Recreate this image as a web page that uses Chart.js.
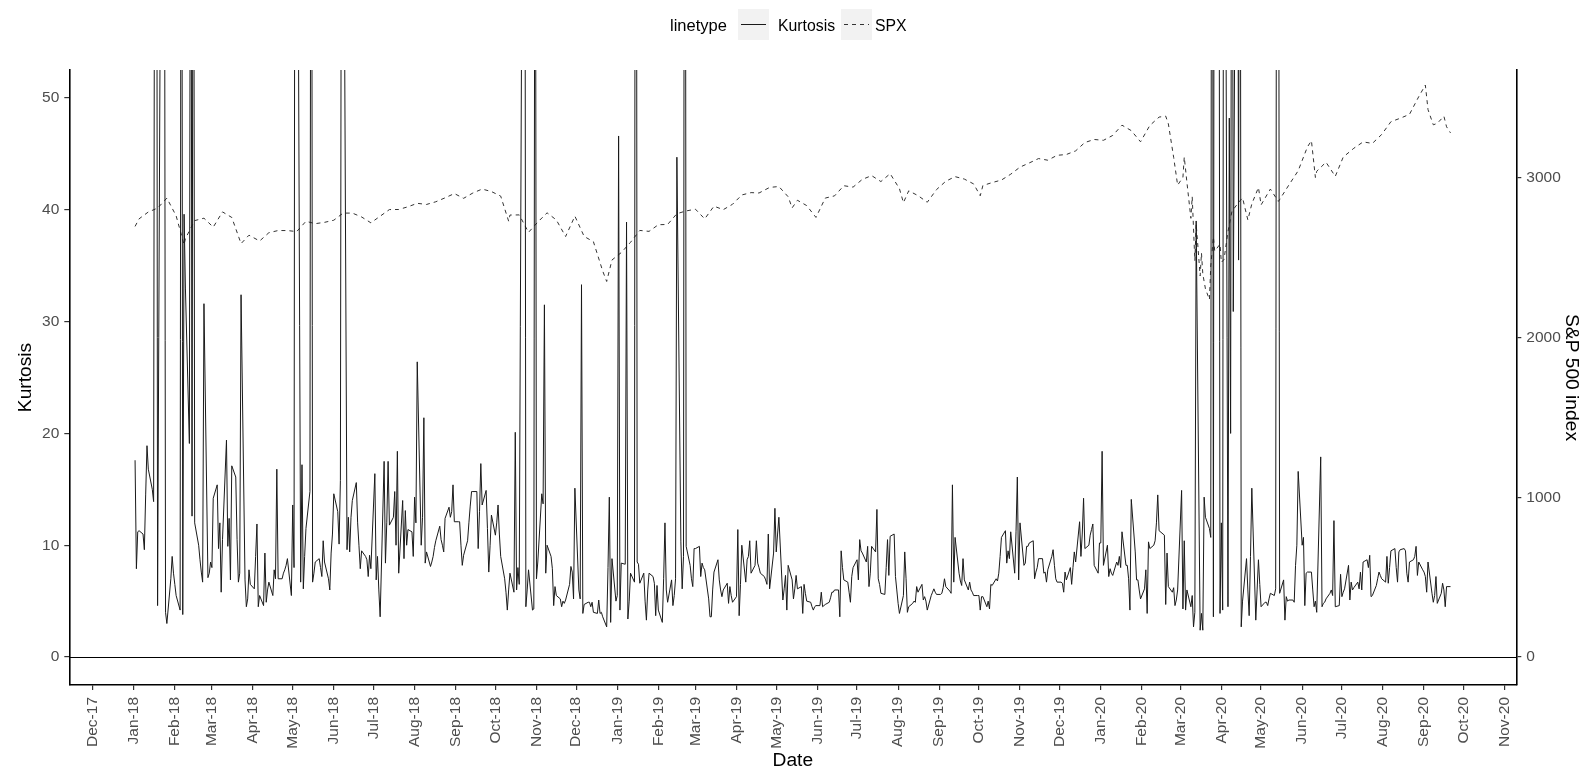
<!DOCTYPE html>
<html>
<head>
<meta charset="utf-8">
<title>Kurtosis and S&amp;P 500</title>
<script src="https://cdn.jsdelivr.net/npm/chart.js@4.4.1/dist/chart.umd.min.js"></script>
<style>
  html, body { margin: 0; padding: 0; background: #fff; }
  #wrap { position: relative; width: 1583px; height: 769px; }
  #legend { position: absolute; left: 0; top: 0; width: 1583px; height: 50px;
            font-family: "Liberation Sans", Arial, sans-serif; color: #000; }
  #legend .ttl, #legend .lab { position: absolute; top: 10px; height: 31px; line-height: 31px; white-space: nowrap; }
  #legend .ttl { left: 670px; font-size: 16.5px; }
  #legend .lab { font-size: 15.8px; }
  #legend .key { position: absolute; top: 9px; width: 31px; height: 31px; background: #f2f2f2; }
  #legend .key i { position: absolute; left: 3px; right: 3px; top: 15px; height: 1px; }
  #legend .solid { background: #1a1a1a; }
  #legend .dash { background: repeating-linear-gradient(90deg, #333 0 4px, transparent 4px 8px); }
</style>
</head>
<body>
<div id="wrap">
  <canvas id="chart" width="1583" height="769"></canvas>
  <div id="legend">
    <span class="ttl">linetype</span>
    <span class="key" style="left:738px"><i class="solid"></i></span>
    <span class="lab" style="left:778px">Kurtosis</span>
    <span class="key" style="left:841px"><i class="dash"></i></span>
    <span class="lab" style="left:875px">SPX</span>
  </div>
</div>
<script>
// daily kurtosis, one value per weekday starting 2 Jan 2018
const kurt2018 = [
  17.6, 7.9, 11.2, 11.3, 11.0, 9.6, 14.5, 18.9, 16.8, 15.0, 13.9, 95, 120, 4.6, 85, 110, 90, 4.0, 3.0, 7.0, 9.0, 7.5,
  6.5, 5.5, 4.2, 110, 3.8, 39.6, 33, 19.1, 95, 12.6, 100, 12.0, 10.0, 8.7, 7.6, 6.7, 31.6, 7.1, 7.5, 8.5,
  8.0, 14.2, 15.4, 9.7, 12.0, 5.8, 10.5, 19.4, 9.9, 12.4, 6.9, 17.1, 16.1, 10.5, 6.7, 7.5, 32.4, 6.9, 4.5, 5.2, 7.8, 6.5,
  6.1, 9.0, 11.9, 4.5, 5.5, 4.6, 9.3, 4.9, 6.0, 6.7, 5.5, 7.8, 7.0, 16.8, 7.0, 7.0, 7.5, 7.8, 8.2, 8.8, 5.5,
  13.6, 8.0, 120, 95, 6.7, 17.2, 6.1, 9.0, 11.5, 14.8, 110, 6.7, 7.5, 8.5, 8.8, 8.0, 7.2, 10.4, 8.5, 7.0, 6.0, 9.3, 11.0,
  14.6, 13.0, 10.1, 15.8, 95, 85, 9.6, 12.5, 9.4, 12.5, 14.0, 15.6, 12.0, 10.0, 7.9, 9.5, 9.0, 8.7, 7.2, 9.1, 7.9,
  16.4, 6.9, 9.0, 6.0, 3.6, 17.5, 8.4, 12.0, 17.5, 11.8, 12.5, 14.8, 10.0, 18.4, 7.5, 14.0, 8.8, 13.1, 10.0, 11.4, 11.2, 9.0,
  14.3, 12.0, 26.4, 10.0, 12.5, 21.4, 8.4, 9.4, 8.1, 8.5, 9.0, 9.8, 10.4, 11.7, 10.5, 10.0, 9.4, 12.4, 13.4, 12.5, 13.0, 15.4, 12.1,
  12.1, 12.1, 10.0, 8.2, 9.1, 10.4, 12.0, 13.5, 14.8, 14.8, 14.8, 9.7, 13.0, 17.3, 13.6, 14.9, 11.5, 7.6, 10.0, 12.7,
  10.9, 12.0, 13.6, 11.0, 9.0, 7.0, 5.8, 4.2, 6.0, 7.5, 5.8, 20.1, 6.0, 8.0, 6.5, 90, 105, 4.5, 6.0, 7.8, 4.2, 4.3, 95,
  7.0, 8.5, 14.6, 13.7, 31.5, 7.5, 10.0, 9.0, 7.9, 4.6, 6.3, 5.5, 5.2, 4.5, 5.0, 4.8, 5.1, 6.5, 8.1, 7.6, 5.2, 15.1,
  6.0, 5.2, 33.3, 3.9, 4.7, 4.9, 4.9, 4.5, 4.9, 4.0, 3.9, 5.1, 3.9, 4.0, 3.6, 2.7, 8.0, 14.3, 3.1, 8.8, 5.0
];
const kurt2019 = [
  5.5, 46.6, 4.2, 8.4, 8.3, 38.9, 3.4, 5.0, 7.5, 6.7, 150, 8.5, 8.3, 6.6, 7.5, 5.0, 3.3, 6.0, 7.5, 7.2, 6.6, 3.7, 6.4,
  4.2, 3.1, 7.0, 12.0, 6.0, 4.9, 6.9, 4.6, 5.5, 7.0, 44.7, 10.3, 6.1, 9.0, 130, 9.9, 8.2, 7.0, 6.3, 9.7,
  9.7, 9.9, 7.2, 8.4, 8.0, 7.8, 5.2, 3.6, 3.6, 6.0, 7.6, 8.7, 6.9, 6.0, 5.4, 6.0, 6.6, 4.8, 6.3, 5.5, 4.9,
  5.4, 11.4, 3.7, 6.5, 10.0, 6.7, 8.7, 9.0, 10.4, 7.5, 8.2, 10.4, 8.4, 8.0, 7.5, 7.2, 6.9, 6.5, 11.0, 6.1, 9.3, 13.3,
  9.4, 11.0, 12.5, 5.1, 6.1, 7.3, 4.2, 8.2, 6.9, 5.2, 6.1, 7.3, 6.1, 6.3, 3.9, 6.5, 5.7, 5.0, 4.9, 4.5, 4.2, 4.5, 4.6,
  4.6, 5.8, 4.5, 4.6, 4.7, 4.9, 5.3, 5.8, 5.8, 6.0, 6.0, 3.6, 9.5, 8.0, 6.9, 6.7, 5.8, 4.9, 7.2, 8.0,
  8.7, 6.9, 10.5, 9.5, 9.3, 8.5, 9.9, 6.3, 7.5, 9.9, 9.4, 13.2, 7.0, 6.5, 5.7, 5.6, 8.0, 10.5, 7.3, 10.8, 11.0, 7.2, 6.0,
  4.8, 3.9, 5.5, 9.4, 7.0, 4.0, 4.5, 4.8, 5.0, 4.9, 6.3, 5.8, 6.5, 5.1, 5.4, 5.0, 4.2, 5.5, 5.8, 6.1, 5.8, 5.6,
  5.6, 5.7, 6.2, 7.0, 6.3, 5.9, 5.7, 15.4, 6.7, 10.7, 7.5, 6.8, 6.4, 8.8, 6.9, 6.0, 6.7, 6.0, 5.8, 5.5, 5.5,
  5.5, 4.2, 5.4, 5.4, 4.5, 5.0, 4.3, 6.5, 6.4, 7.0, 6.8, 7.5, 9.0, 10.7, 11.3, 8.4, 9.5, 8.8, 11.2, 7.5, 11.2, 16.1, 6.9,
  12.0, 8.2, 8.4, 9.9, 9.9, 10.2, 10.4, 7.0, 7.6, 8.0, 8.8, 8.8, 7.5, 7.6, 6.7, 7.8, 9.0, 9.6, 8.2, 7.0, 6.7,
  6.7, 6.6, 5.8, 7.6, 6.9, 8.0, 6.5, 8.0, 9.4, 8.5, 12.1, 9.0, 11.0, 14.2, 9.7, 10.0, 10.9, 11.4, 11.9, 8.2, 7.5, 10.2
];
const kurt2020 = [
  10.2, 18.4, 8.2, 10.0, 7.2, 7.9, 7.5, 7.3, 8.5, 8.2, 9.0, 8.0, 11.2, 8.2, 8.2, 7.0, 4.2, 14.1, 9.4, 6.9, 6.9, 6.0, 5.2,
  6.1, 7.8, 3.9, 10.3, 9.7, 10.0, 10.4, 12.0, 14.5, 11.3, 11.0, 10.9, 4.7, 9.3, 6.3, 5.8, 6.2, 4.6, 5.1, 6.0,
  14.9, 4.3, 10.4, 4.2, 6.0, 4.5, 5.5, 2.7, 4.0, 39.0, 2.4, 3.9, 2.4, 14.3, 12.5, 11.5, 10.7, 125, 3.6, 140, 100, 3.9,
  12.0, 4.2, 110, 4.5, 48.2, 20.0, 100, 30.9, 100, 35.5, 110, 2.7, 5.0, 8.8, 6.0, 3.7, 9.0, 15.1, 3.3, 6.0, 8.7, 6.5,
  4.5, 4.9, 4.9, 4.6, 5.2, 5.7, 5.5, 6.1, 110, 95, 5.7, 6.9, 3.3, 5.4, 5.0, 5.1, 5.1, 4.9, 8.2, 10.0, 16.6,
  10.0, 10.7, 4.6, 7.5, 7.6, 7.6, 6.0, 4.5, 5.0, 4.0, 17.9, 4.5, 4.8, 4.9, 5.2, 5.7, 6.0, 5.5, 12.2, 4.5, 4.6, 7.4,
  5.4, 5.8, 6.1, 8.2, 5.1, 6.7, 6.0, 6.2, 6.7, 6.1, 7.6, 6.0, 8.5, 8.7, 8.0, 9.1, 5.4, 5.5, 6.4, 7.0, 7.6, 7.3, 7.0,
  6.7, 9.0, 6.6, 8.0, 9.5, 9.7, 8.0, 6.7, 9.4, 9.6, 9.7, 9.5, 7.5, 6.7, 8.5, 8.7, 9.0, 9.9, 7.3, 8.5, 7.8,
  7.6, 7.2, 5.8, 8.5, 5.7, 4.9, 5.5, 7.2, 4.8, 5.7, 6.6, 6.0, 4.5, 6.3, 6.3
];

// S&P 500 closes
const spxDates = [
  '2018-01-02','2018-01-05','2018-01-12','2018-01-19','2018-01-26','2018-02-02','2018-02-08','2018-02-09',
  '2018-02-16','2018-02-23','2018-03-02','2018-03-09','2018-03-16','2018-03-23','2018-03-29','2018-04-06',
  '2018-04-13','2018-04-20','2018-04-27','2018-05-04','2018-05-11','2018-05-18','2018-05-25','2018-06-01',
  '2018-06-08','2018-06-15','2018-06-22','2018-06-29','2018-07-06','2018-07-13','2018-07-20','2018-07-27',
  '2018-08-03','2018-08-10','2018-08-17','2018-08-24','2018-08-31','2018-09-07','2018-09-14','2018-09-21',
  '2018-09-28','2018-10-05','2018-10-11','2018-10-12','2018-10-19','2018-10-26','2018-11-02','2018-11-09',
  '2018-11-16','2018-11-23','2018-11-30','2018-12-07','2018-12-14','2018-12-21','2018-12-24','2018-12-28',
  '2019-01-04','2019-01-11','2019-01-18','2019-01-25','2019-02-01','2019-02-08','2019-02-15','2019-02-22',
  '2019-03-01','2019-03-08','2019-03-15','2019-03-22','2019-03-29','2019-04-05','2019-04-12','2019-04-18',
  '2019-04-26','2019-05-03','2019-05-10','2019-05-13','2019-05-17','2019-05-24','2019-05-31','2019-06-07',
  '2019-06-14','2019-06-21','2019-06-28','2019-07-05','2019-07-12','2019-07-19','2019-07-26','2019-08-02',
  '2019-08-05','2019-08-09','2019-08-16','2019-08-23','2019-08-30','2019-09-06','2019-09-13','2019-09-20',
  '2019-09-27','2019-10-02','2019-10-04','2019-10-11','2019-10-18','2019-10-25','2019-11-01','2019-11-08',
  '2019-11-15','2019-11-22','2019-11-29','2019-12-06','2019-12-13','2019-12-20','2019-12-27',
  '2020-01-03','2020-01-10','2020-01-17','2020-01-24','2020-01-31','2020-02-07','2020-02-14','2020-02-19',
  '2020-02-21','2020-02-25','2020-02-28','2020-03-03','2020-03-04','2020-03-06','2020-03-09','2020-03-10',
  '2020-03-12','2020-03-13','2020-03-16','2020-03-17','2020-03-18','2020-03-20','2020-03-23','2020-03-24',
  '2020-03-26','2020-03-27','2020-03-31','2020-04-01','2020-04-03','2020-04-06','2020-04-09','2020-04-14',
  '2020-04-17','2020-04-21','2020-04-24','2020-04-29','2020-05-01','2020-05-08','2020-05-14','2020-05-15',
  '2020-05-22','2020-05-29','2020-06-05','2020-06-08','2020-06-11','2020-06-12','2020-06-19','2020-06-26',
  '2020-07-02','2020-07-10','2020-07-17','2020-07-24','2020-07-31','2020-08-07','2020-08-14','2020-08-21',
  '2020-08-28','2020-09-02','2020-09-04','2020-09-08','2020-09-11','2020-09-16','2020-09-18','2020-09-21'
];
const spxClose = [
  2695.8, 2743.2, 2786.2, 2810.3, 2872.9, 2762.1, 2581.0, 2619.6,
  2732.2, 2747.3, 2691.3, 2786.6, 2752.0, 2588.3, 2640.9, 2604.5,
  2656.3, 2670.1, 2669.9, 2663.4, 2727.7, 2713.0, 2721.3, 2734.6,
  2779.0, 2779.4, 2754.9, 2718.4, 2759.8, 2801.3, 2801.8, 2818.8,
  2840.4, 2833.3, 2850.1, 2874.7, 2901.5, 2871.7, 2905.0, 2929.7,
  2914.0, 2885.6, 2728.4, 2767.1, 2767.8, 2658.7, 2723.1, 2781.0,
  2736.3, 2632.6, 2760.2, 2633.1, 2600.0, 2416.6, 2351.1, 2485.7,
  2531.9, 2596.3, 2670.7, 2664.8, 2706.5, 2707.9, 2775.6, 2792.7,
  2803.7, 2743.1, 2822.5, 2800.7, 2834.4, 2892.7, 2907.4, 2905.0,
  2939.9, 2945.6, 2881.4, 2811.9, 2859.5, 2826.1, 2752.1, 2873.3,
  2887.0, 2950.5, 2941.8, 2990.4, 3013.8, 2976.6, 3025.9, 2932.1,
  2844.7, 2918.7, 2888.7, 2847.1, 2926.5, 2978.7, 3007.4, 2992.1,
  2961.8, 2887.6, 2952.0, 2970.3, 2986.2, 3022.6, 3066.9, 3093.1,
  3120.5, 3110.3, 3141.0, 3145.9, 3168.8, 3221.2, 3240.0,
  3234.9, 3265.4, 3329.6, 3295.5, 3225.5, 3327.7, 3380.2, 3386.2,
  3337.8, 3128.2, 2954.2, 3003.4, 3130.1, 2972.4, 2746.6, 2882.2,
  2480.6, 2711.0, 2386.1, 2529.2, 2398.1, 2304.9, 2237.4, 2447.3,
  2630.1, 2541.5, 2584.6, 2470.5, 2488.7, 2663.7, 2789.8, 2846.1,
  2874.6, 2736.6, 2836.7, 2939.5, 2830.7, 2929.8, 2852.5, 2863.7,
  2955.5, 3044.3, 3193.9, 3232.4, 3002.1, 3041.3, 3097.7, 3009.1,
  3130.0, 3185.0, 3224.7, 3215.6, 3271.1, 3351.3, 3372.9, 3397.2,
  3508.0, 3580.8, 3427.0, 3331.8, 3341.0, 3385.5, 3319.5, 3281.1
];

const monthLabels = [
  'Dec-17','Jan-18','Feb-18','Mar-18','Apr-18','May-18','Jun-18','Jul-18','Aug-18','Sep-18','Oct-18','Nov-18',
  'Dec-18','Jan-19','Feb-19','Mar-19','Apr-19','May-19','Jun-19','Jul-19','Aug-19','Sep-19','Oct-19','Nov-19',
  'Dec-19','Jan-20','Feb-20','Mar-20','Apr-20','May-20','Jun-20','Jul-20','Aug-20','Sep-20','Oct-20','Nov-20'
];
const kurtTicks = [0, 10, 20, 30, 40, 50];
const spxTicks = [0, 1000, 2000, 3000];
const spxScale = 70; // secondary axis = kurtosis * 70

const DAY = 86400000;
const MONTHS = ['Jan','Feb','Mar','Apr','May','Jun','Jul','Aug','Sep','Oct','Nov','Dec'];

function weekdaysFrom(iso, count) {
  const out = [];
  let t = Date.parse(iso);
  while (out.length < count) {
    const wd = new Date(t).getUTCDay();
    if (wd !== 0 && wd !== 6) out.push(t / DAY);
    t += DAY;
  }
  return out;
}

const kurtosis = [...kurt2018, ...kurt2019, ...kurt2020];
const kurtDays = weekdaysFrom('2018-01-02', kurtosis.length);
const kurtPoints = kurtosis.map((v, i) => ({ x: kurtDays[i], y: v }));
const spxPoints = spxClose.map((v, i) => ({ x: Date.parse(spxDates[i]) / DAY, y: v }));

const monthTicks = monthLabels.map(s => {
  const [m, yy] = s.split('-');
  return Date.UTC(2000 + +yy, MONTHS.indexOf(m), 1) / DAY;
});

// 5% expansion either side, like the usual ggplot default
const first = kurtDays[0], last = kurtDays[kurtDays.length - 1];
const pad = (last - first) * 0.05;
const yMin = -2.5, yMax = 52.5;

const FONT = "'Liberation Sans', Arial, sans-serif";
Chart.defaults.font.family = FONT;

const zeroLine = {
  id: 'zeroLine',
  beforeDatasetsDraw(chart) {
    const { ctx, chartArea: a, scales: { y } } = chart;
    const py = Math.round(y.getPixelForValue(0)) + 0.5;
    ctx.save();
    ctx.strokeStyle = '#000';
    ctx.lineWidth = 1.1;
    ctx.beginPath();
    ctx.moveTo(a.left, py);
    ctx.lineTo(a.right, py);
    ctx.stroke();
    ctx.restore();
  }
};

const tickFont = { size: 15.5, family: FONT };
const titleFont = { size: 19.2, family: FONT };
const axisGrid = { drawOnChartArea: false, drawTicks: true, tickLength: 5, color: '#333', lineWidth: 1.2 };
const axisBorder = { display: true, color: '#000', width: 1.6 };

new Chart(document.getElementById('chart'), {
  type: 'line',
  data: {
    datasets: [
      { label: 'Kurtosis', data: kurtPoints, yAxisID: 'y', borderColor: '#1a1a1a', borderWidth: 1,
        pointRadius: 0, tension: 0, fill: false },
      { label: 'SPX', data: spxPoints, yAxisID: 'y2', borderColor: '#333', borderWidth: 1,
        borderDash: [4, 4], pointRadius: 0, tension: 0, fill: false }
    ]
  },
  options: {
    responsive: false,
    animation: false,
    devicePixelRatio: 1,
    layout: { padding: { top: 70, left: 0, right: 0, bottom: 0 } },
    plugins: { legend: { display: false }, tooltip: { enabled: false } },
    scales: {
      x: {
        type: 'linear',
        min: first - pad,
        max: last + pad,
        afterBuildTicks: s => { s.ticks = monthTicks.map(v => ({ value: v })); },
        afterFit: s => { s.height = 84; },
        ticks: {
          autoSkip: false, minRotation: 90, maxRotation: 90, padding: 7,
          color: '#4d4d4d', font: tickFont,
          callback: (v, i) => monthLabels[i]
        },
        grid: axisGrid,
        border: axisBorder,
        title: { display: true, text: 'Date', color: '#000', font: titleFont, padding: { top: 0, bottom: -3 } }
      },
      y: {
        position: 'left',
        min: yMin,
        max: yMax,
        afterBuildTicks: s => { s.ticks = kurtTicks.map(v => ({ value: v })); },
        afterFit: s => { s.width = 69.3; },
        ticks: { color: '#4d4d4d', font: tickFont, padding: 5, callback: v => String(v) },
        grid: axisGrid,
        border: axisBorder,
        title: { display: true, text: 'Kurtosis', color: '#000', font: titleFont, padding: { top: 14, bottom: 0 } }
      },
      y2: {
        position: 'right',
        min: yMin * spxScale,
        max: yMax * spxScale,
        afterBuildTicks: s => { s.ticks = spxTicks.map(v => ({ value: v })); },
        afterFit: s => { s.width = 66.7; },
        ticks: { color: '#4d4d4d', font: tickFont, padding: 5, callback: v => String(v) },
        grid: axisGrid,
        border: axisBorder,
        title: { display: true, text: 'S&P 500 index', color: '#000', font: titleFont, padding: { top: 0, bottom: 0 } }
      }
    }
  },
  plugins: [zeroLine]
});
</script>
</body>
</html>
